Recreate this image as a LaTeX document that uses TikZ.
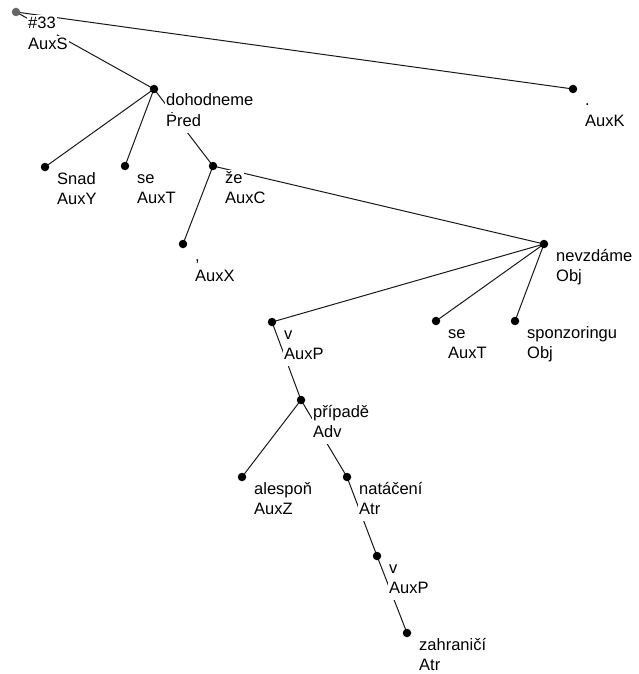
\documentclass[tikz,border=0pt]{standalone}
\usepackage{fontspec}
\setmainfont{Liberation Sans}
\usetikzlibrary{backgrounds}

\tikzset{
  treedot/.style={circle, fill=black, inner sep=0pt, minimum size=8.5pt},
  rootdot/.style={treedot, fill=black!60},
  lbl/.style={anchor=base west, fill=white, inner xsep=1pt, inner ysep=0pt,
              text height=13.5pt, text depth=6.5pt,
              font=\fontsize{16.5}{20}\selectfont},
  edge/.style={line width=1pt, black!90},
}

% dot with a two-line label (word form, analytical function) below right of it
\newcommand\treenode[6][treedot]{%
  \node[#1] (#2) at (#3,#4) {};
  \node[lbl] (#2-w) at ([xshift=11pt,yshift=-17pt]#2.center) {#5};
  \node[lbl] (#2-t) at ([xshift=11pt,yshift=-37.5pt]#2.center) {#6};
}

\begin{document}
\begin{tikzpicture}[x=1pt, y=-1pt]
  \useasboundingbox (0,0) rectangle (639,674);

  \treenode[rootdot]{root}{16}{12}{\#33}{AuxS}
  \treenode{doh}{154}{89}{dohodneme}{Pred}
  \treenode{auxk}{573}{89}{.}{AuxK}
  \treenode{snad}{45}{167}{Snad}{AuxY}
  \treenode{se}{125}{166}{se}{AuxT}
  \treenode{ze}{213}{166}{že}{AuxC}
  \treenode{auxx}{183}{244}{,}{AuxX}
  \treenode{nev}{544}{244}{nevzdáme}{Obj}
  \treenode{v}{272}{322}{v}{AuxP}
  \treenode{setwo}{436}{321}{se}{AuxT}
  \treenode{spon}{515}{321}{sponzoringu}{Obj}
  \treenode{prip}{301}{400}{případě}{Adv}
  \treenode{ales}{242}{477}{alespoň}{AuxZ}
  \treenode{nat}{347}{477}{natáčení}{Atr}
  \treenode{vtwo}{377}{556}{v}{AuxP}
  \treenode{zahr}{407}{633}{zahraničí}{Atr}

  \begin{scope}[on background layer]
    \fill[white] (0,0) rectangle (639,674);
    \draw[edge] (root.center) -- (doh.center);
    \draw[edge] (root.center) -- (auxk.center);
    \draw[edge] (doh.center) -- (snad.center);
    \draw[edge] (doh.center) -- (se.center);
    \draw[edge] (doh.center) -- (ze.center);
    \draw[edge] (ze.center) -- (auxx.center);
    \draw[edge] (ze.center) -- (nev.center);
    \draw[edge] (nev.center) -- (v.center);
    \draw[edge] (nev.center) -- (setwo.center);
    \draw[edge] (nev.center) -- (spon.center);
    \draw[edge] (v.center) -- (prip.center);
    \draw[edge] (prip.center) -- (ales.center);
    \draw[edge] (prip.center) -- (nat.center);
    \draw[edge] (nat.center) -- (vtwo.center);
    \draw[edge] (vtwo.center) -- (zahr.center);
  \end{scope}
\end{tikzpicture}
\end{document}
